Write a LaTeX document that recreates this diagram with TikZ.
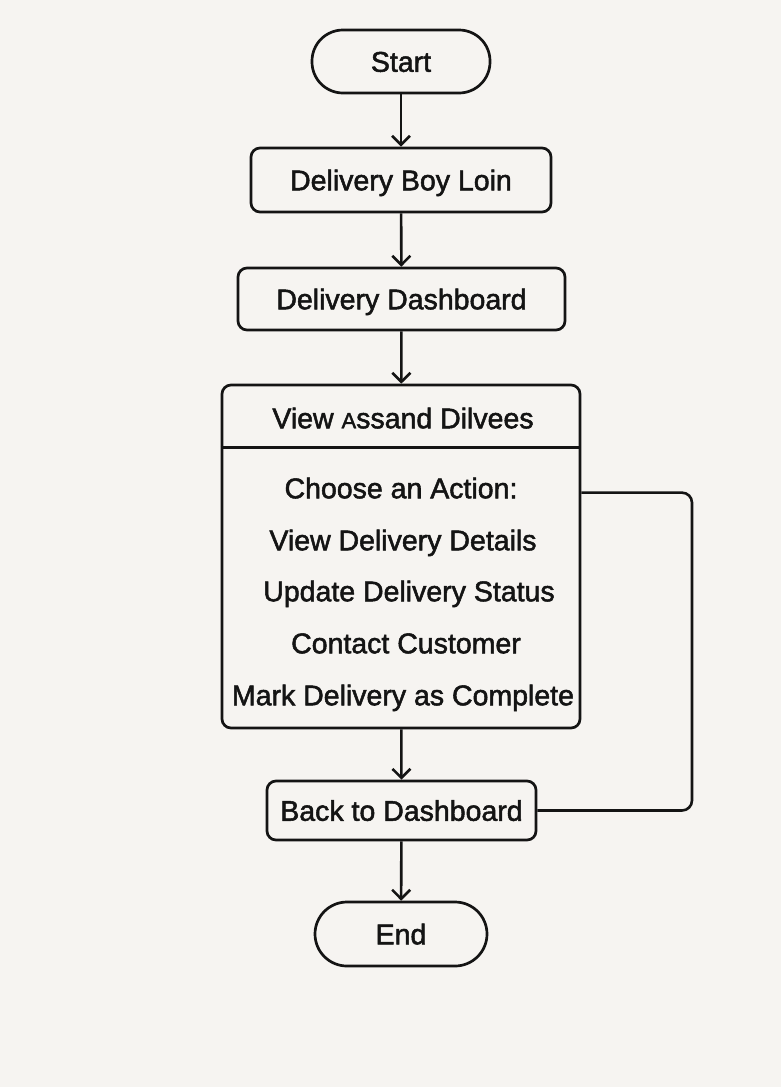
\documentclass[tikz,border=0pt]{standalone}
\usepackage{fontspec}
\setmainfont{Liberation Sans}[FakeBold=1.8]
\usetikzlibrary{arrows.meta}
\definecolor{bgc}{RGB}{246,244,241}
\definecolor{ink}{RGB}{20,20,20}
\begin{document}
\begin{tikzpicture}[x=1pt,y=-1pt,
  every node/.style={font=\fontsize{28.5}{33}\selectfont, text=ink, inner sep=0pt, text height=20.5pt, text depth=0pt},
  term/.style={draw=ink, line width=2.7pt, rounded corners=31pt, minimum height=63pt},
  proc/.style={draw=ink, line width=2.7pt, rounded corners=9pt},
  flow/.style={draw=ink, line width=2.6pt, -{Straight Barb[length=9pt,width=18pt,line width=2.6pt]}},
  loopline/.style={draw=ink, line width=2.6pt, rounded corners=10pt}]
\fill[bgc] (0,0) rectangle (781,1087);
\useasboundingbox (0,0) rectangle (781,1087);

\node[term, minimum width=178pt] (start) at (401,61.5) {Start};
\node[proc, minimum width=300pt, minimum height=64pt] (login) at (401,180) {Delivery Boy Loin};
\node[proc, minimum width=327pt, minimum height=62pt] (dash) at (401.5,299) {Delivery Dashboard};
\node[proc, minimum width=358pt, minimum height=343pt] (big) at (401,556.5) {};
\draw[ink, line width=2.7pt] ([yshift=-64pt]big.north west) -- ([yshift=-64pt]big.north east);
\node (title) at (403,418) {View {\fontsize{22}{26}\selectfont A}ssand Dilvees};
\node (choose) at (401,488) {Choose an Action:};
\node (a1) at (403,540) {View Delivery Details};
\node (a2) at (409,591) {Update Delivery Status};
\node (a3) at (406,643) {Contact Customer};
\node (a4) at (403,695) {Mark Delivery as Complete};
\node[proc, minimum width=269pt, minimum height=59pt] (back) at (401.5,810.5) {Back to Dashboard};
\node[term, minimum width=172pt, minimum height=64pt, rounded corners=32pt] (end) at (401,934) {End};

\draw[flow] (start) -- (login);
\draw[flow] (login) -- (dash);
\draw[flow] (dash) -- (big);
\draw[flow] (big) -- (back);
\draw[flow] (back) -- (end);
\coordinate (loopstart) at ([yshift=-109pt]big.north east);
\coordinate (loopx) at (692,0);
\draw[loopline] (loopstart) -- (loopstart -| loopx) |- (back.east);
\end{tikzpicture}
\end{document}
